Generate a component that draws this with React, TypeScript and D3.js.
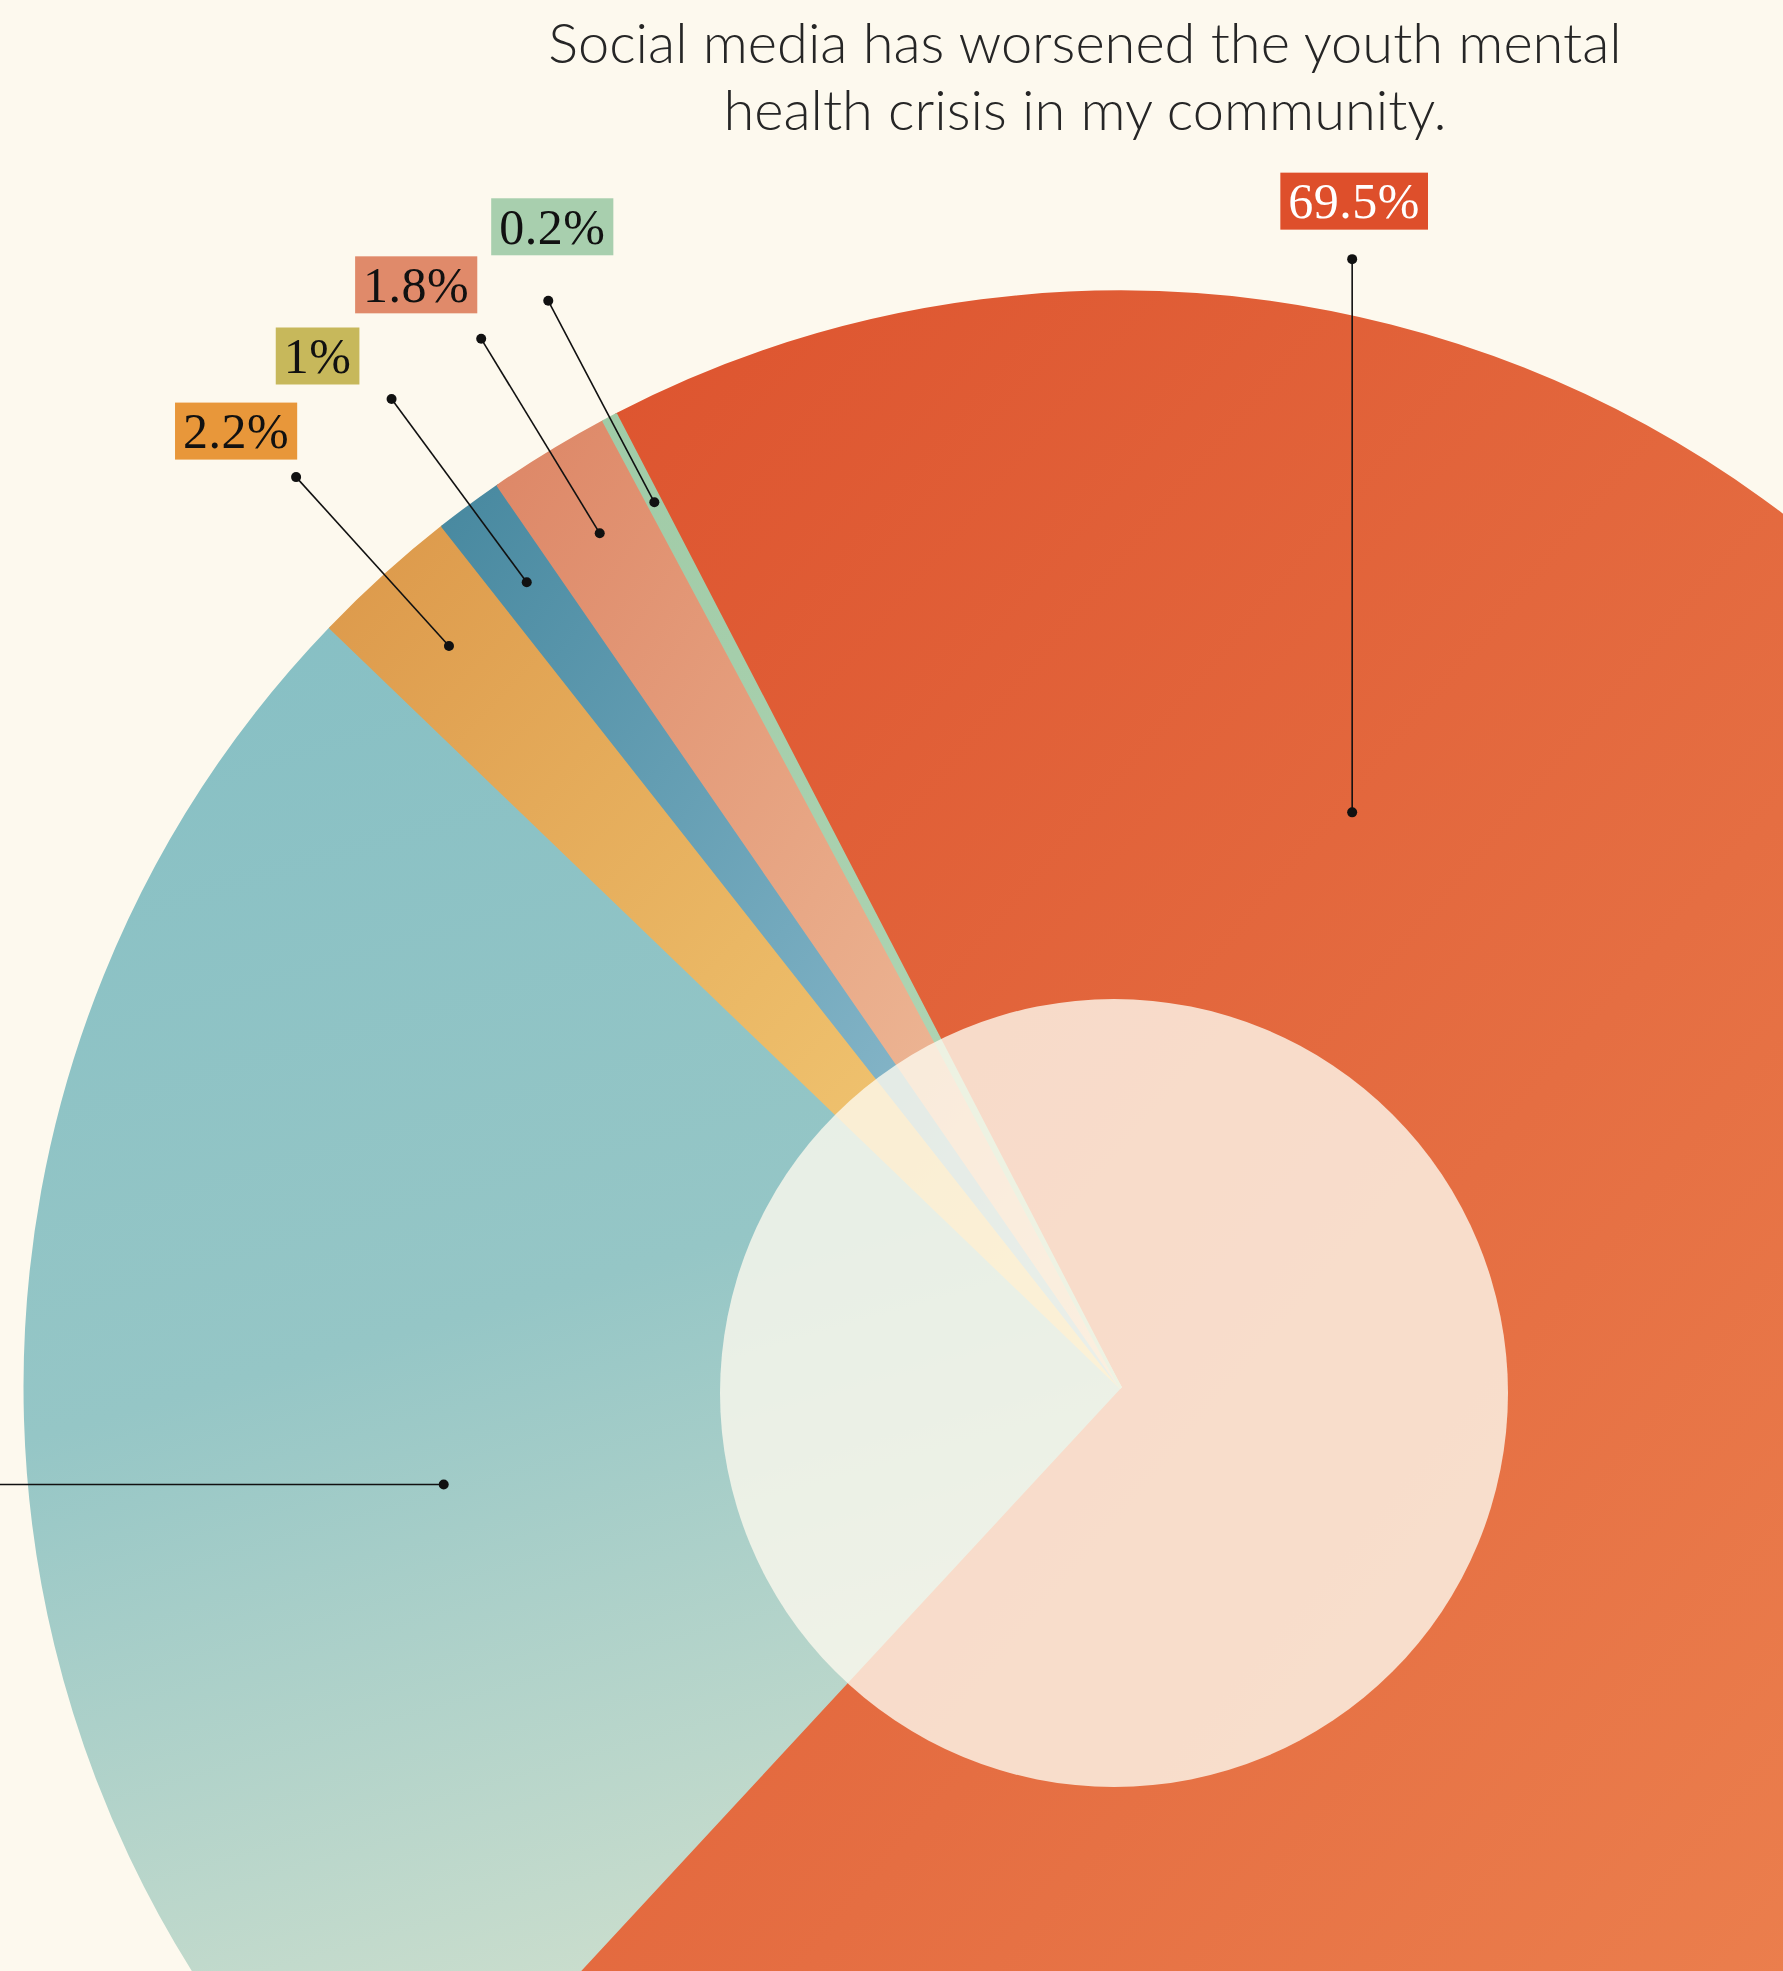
import React, { useEffect, useRef } from 'react';
import * as d3 from 'd3';

// survey answers, in drawing order (clockwise from the top)
const answers = ['Agree', 'Disagree', 'Neutral', 'Unsure', 'Somewhat', 'No answer'];
const shares = [69.5, 25.3, 2.2, 1.0, 1.8, 0.2];
const shareLabels = ['69.5%', '25.3%', '2.2%', '1%', '1.8%', '0.2%'];

// slice gradients: start, middle, end colour
const sliceStops = [
  ['#DC502C', '#E56E42', '#F08C56'],
  ['#86BFC4', '#95C6C6', '#D2E1CE'],
  ['#DC984A', '#EAB764', '#F7D27E'],
  ['#47889F', '#73A9BD', '#A2C8D8'],
  ['#DD8666', '#E8A886', '#F3C8A8'],
  ['#A0CBA7', '#AAD1AF', '#B6D9BA'],
];
// teal runs mostly top to bottom, the rest diagonally
const sliceDir = [[1, 1], [0.2, 1], [1, 1], [1, 1], [1, 1], [1, 1]];

// label boxes
const labelFill = ['#DE4F2B', '#8CC2C4', '#E8973A', '#C7B85B', '#E08A6A', '#A8CFAE'];
const labelInk = ['#ffffff', '#111111', '#111111', '#111111', '#111111', '#111111'];

const titleLines = [
  'Social media has worsened the youth mental',
  'health crisis in my community.',
];

const W = 1783;
const H = 1971;

const App = () => {
  const svgRef = useRef(null);

  useEffect(() => {
    document.body.style.margin = '0';
    document.body.style.background = '#FDF9EE';

    const svg = d3.select(svgRef.current);
    svg.selectAll('*').remove();

    const cx = 1120;
    const cy = 1387;
    const R = 1095;
    const rad = (deg) => (deg * Math.PI) / 180;
    const start = rad(-27.4);

    svg.append('rect').attr('width', W).attr('height', H).attr('fill', '#FDF9EE');

    const defs = svg.append('defs');
    shares.forEach((_, i) => {
      const g = defs
        .append('linearGradient')
        .attr('id', `grad-${i}`)
        .attr('x1', 0)
        .attr('y1', 0)
        .attr('x2', sliceDir[i][0])
        .attr('y2', sliceDir[i][1]);
      sliceStops[i].forEach((c, k) => {
        g.append('stop').attr('offset', k / 2).attr('stop-color', c);
      });
    });

    const pie = d3
      .pie()
      .sort(null)
      .value((d) => d)
      .startAngle(start)
      .endAngle(start + Math.PI * 2);
    const arcs = pie(shares);

    const arc = d3.arc().innerRadius(0).outerRadius(R);

    const chart = svg.append('g').attr('transform', `translate(${cx},${cy})`);

    chart
      .selectAll('path.slice')
      .data(arcs)
      .enter()
      .append('path')
      .attr('class', 'slice')
      .attr('d', arc)
      .attr('fill', (d, i) => `url(#grad-${i})`)
      .attr('stroke', (d, i) => `url(#grad-${i})`)
      .attr('stroke-width', 3)
      .attr('stroke-linejoin', 'round');

    // pale inner disc
    chart
      .append('circle')
      .attr('cx', -6)
      .attr('cy', 6)
      .attr('r', 394)
      .attr('fill', '#FDF9EE')
      .attr('opacity', 0.8);

    // leader lines: small slices go radially out, the big two are bent to their label
    const polar = (a, r) => [r * Math.sin(a), -r * Math.cos(a)];
    const leaders = arcs.map((d, i) => {
      const mid = (d.startAngle + d.endAngle) / 2;
      if (i === 0) {
        const p = polar(rad(22), R * 0.566);
        return { from: p, to: [p[0], -R * 1.03] };
      }
      if (i === 1) {
        const p = polar(rad(261.8), R * 0.624);
        return { from: p, to: [-cx - 40, p[1]] };
      }
      return { from: polar(mid, R * 0.913), to: polar(mid, R * 1.121) };
    });

    // label offsets from outer dot (box centre); the teal one sits off the page
    const labelShift = [
      [2, -58],
      null,
      [-60, -46],
      [-74, -43],
      [-65, -54],
      [4, -74],
    ];

    const lg = chart.append('g');
    leaders.forEach((l, i) => {
      lg.append('line')
        .attr('x1', l.from[0])
        .attr('y1', l.from[1])
        .attr('x2', l.to[0])
        .attr('y2', l.to[1])
        .attr('stroke', '#111')
        .attr('stroke-width', 1.6);
      [l.from, l.to].forEach((p) => {
        lg.append('circle').attr('cx', p[0]).attr('cy', p[1]).attr('r', 5).attr('fill', '#111');
      });

      if (!labelShift[i]) return;
      const bx = l.to[0] + labelShift[i][0];
      const by = l.to[1] + labelShift[i][1];
      const box = lg.append('g').attr('transform', `translate(${bx},${by})`);
      const rect = box.append('rect').attr('fill', labelFill[i]);
      const t = box
        .append('text')
        .attr('text-anchor', 'middle')
        .attr('y', 17)
        .attr('font-family', '"Liberation Serif", "DejaVu Serif", serif')
        .attr('font-size', 50)
        .attr('letter-spacing', 0.5)
        .attr('fill', labelInk[i])
        .text(shareLabels[i]);
      const w = t.node().getComputedTextLength() + 16;
      rect.attr('x', -w / 2).attr('y', -28.5).attr('width', w).attr('height', 57);
    });

    // title
    const title = svg
      .append('text')
      .attr('text-anchor', 'middle')
      .attr('font-family', 'Lato, "Open Sans", sans-serif')
      .attr('font-weight', 300)
      .attr('font-size', 56)
      .attr('fill', '#262626');
    titleLines.forEach((line, i) => {
      title
        .append('tspan')
        .attr('x', 1085)
        .attr('y', 63 + i * 67)
        .text(line);
    });
  }, []);

  return <svg ref={svgRef} width={W} height={H} style={{ display: 'block' }} aria-label={answers.join(', ')}></svg>;
};

export default App;
